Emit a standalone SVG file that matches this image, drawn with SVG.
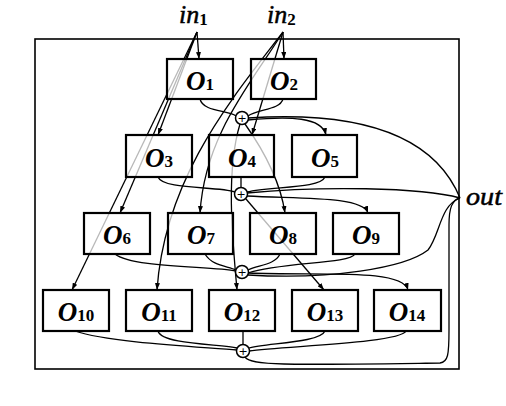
<svg xmlns="http://www.w3.org/2000/svg" width="506" height="406" viewBox="0 0 506 406">
<style>
.frame{fill:none;stroke:#000;stroke-width:1.6}
.box{fill:#fff;fill-opacity:0.72;stroke:#000;stroke-width:2.2}
.sum{fill:#fff;stroke:#000;stroke-width:1.5}
.e{fill:none;stroke:#000;stroke-width:1.3}
.a{marker-end:url(#ah)}
.op{font-family:"Liberation Serif",serif;font-style:italic;font-weight:bold;font-size:27px;fill:#000}
.sub{font-family:"Liberation Serif",serif;font-style:normal;font-weight:bold;font-size:17px}
.lbl{font-family:"Liberation Serif",serif;font-style:italic;font-size:26px;fill:#000;stroke:#000;stroke-width:0.5}
.plus{font-family:"DejaVu Sans",sans-serif;font-size:11px;fill:#000;text-anchor:middle}
</style>
<defs>
<marker id="ah" markerWidth="7" markerHeight="5" refX="7" refY="2.5" orient="auto" markerUnits="userSpaceOnUse">
<path d="M0,0 L7,2.5 L0,5 z" fill="#000"/>
</marker>
</defs>
<rect class="frame" x="35" y="39" width="424" height="330"/>
<text class="lbl" x="179" y="23">in<tspan class="sub" dy="2" stroke-width="0">1</tspan></text>
<text class="lbl" x="267" y="23">in<tspan class="sub" dy="2" stroke-width="0">2</tspan></text>
<text class="lbl" x="466" y="205" textLength="36" lengthAdjust="spacingAndGlyphs">out</text>
<g id="connectors">
<path class="e a" d="M197,32 L199,59"/>
<path class="e a" d="M197,32 L158,135"/>
<path class="e a" d="M197,32 L120,213"/>
<path class="e a" d="M197,32 L72,290"/>
<path class="e a" d="M283,32 L284,59"/>
<path class="e a" d="M283,32 L252,135"/>
<path class="e a" d="M283,32 C250,85 205,135 200,213"/>
<path class="e a" d="M283,32 C235,95 165,175 157,290"/>
<path class="e a" d="M248,120 C290,116 322,117 326,135"/>
<path class="e" d="M248,118 C340,112 430,125 460,198"/>
<path class="e a" d="M245,124 C262,148 280,180 285,213"/>
<path class="e a" d="M240,124 C226,170 232,235 237,290"/>
<path class="e a" d="M247,196 C300,199 362,196 368,213"/>
<path class="e" d="M247,193 C320,186 420,187 460,198"/>
<path class="e a" d="M246,199 L324,290"/>
<path class="e a" d="M248,273 C320,276 402,268 408,290"/>
<path class="e" d="M248,275 C330,280 405,268 428,250 C440,235 440,205 460,198"/>
<path class="e" d="M245,357 C250,366 290,365 440,363 C448,362 449,355 449,330 L449,225 C449,208 452,200 460,198"/>
<path class="e" d="M200,99 C203,112 228,110 236,116"/>
<path class="e" d="M283,99 C280,110 258,109 248,116"/>
<path class="e" d="M158,177 C163,190 218,186 235,192"/>
<path class="e" d="M241,177 L241,187.5"/>
<path class="e" d="M325,177 C320,189 270,186 247,192"/>
<path class="e" d="M115,254 C132,268 212,266 236,271"/>
<path class="e" d="M205,254 C212,266 228,266 236,270"/>
<path class="e" d="M280,254 C275,265 258,265 248,270"/>
<path class="e" d="M355,254 C350,264 282,262 248,273"/>
<path class="e" d="M75,331 C110,343 205,347 237,350"/>
<path class="e" d="M158,331 C162,345 222,344 237,348"/>
<path class="e" d="M243,331 L243,344.5"/>
<path class="e" d="M325,331 C320,343 265,343 249,348"/>
<path class="e" d="M406,331 C400,343 285,346 249,351"/>
</g>
<g id="O1"><rect class="box" x="167" y="59" width="66" height="40"/><text class="op" x="200" y="90" text-anchor="middle">O<tspan class="sub">1</tspan></text></g>
<g id="O2"><rect class="box" x="251" y="59" width="65" height="40"/><text class="op" x="284" y="90" text-anchor="middle">O<tspan class="sub">2</tspan></text></g>
<g id="O3"><rect class="box" x="126" y="135" width="66" height="42"/><text class="op" x="159" y="167" text-anchor="middle">O<tspan class="sub">3</tspan></text></g>
<g id="O4"><rect class="box" x="209" y="135" width="65" height="42"/><text class="op" x="242" y="167" text-anchor="middle">O<tspan class="sub">4</tspan></text></g>
<g id="O5"><rect class="box" x="292" y="135" width="65" height="42"/><text class="op" x="325" y="167" text-anchor="middle">O<tspan class="sub">5</tspan></text></g>
<g id="O6"><rect class="box" x="84" y="213" width="66" height="41"/><text class="op" x="117" y="244" text-anchor="middle">O<tspan class="sub">6</tspan></text></g>
<g id="O7"><rect class="box" x="168" y="213" width="65" height="41"/><text class="op" x="201" y="244" text-anchor="middle">O<tspan class="sub">7</tspan></text></g>
<g id="O8"><rect class="box" x="250" y="213" width="66" height="41"/><text class="op" x="283" y="244" text-anchor="middle">O<tspan class="sub">8</tspan></text></g>
<g id="O9"><rect class="box" x="333" y="213" width="66" height="41"/><text class="op" x="366" y="244" text-anchor="middle">O<tspan class="sub">9</tspan></text></g>
<g id="O10"><rect class="box" x="43" y="290" width="66" height="41"/><text class="op" x="76" y="321" text-anchor="middle">O<tspan class="sub">10</tspan></text></g>
<g id="O11"><rect class="box" x="126" y="290" width="66" height="41"/><text class="op" x="159" y="321" text-anchor="middle">O<tspan class="sub">11</tspan></text></g>
<g id="O12"><rect class="box" x="209" y="290" width="66" height="41"/><text class="op" x="242" y="321" text-anchor="middle">O<tspan class="sub">12</tspan></text></g>
<g id="O13"><rect class="box" x="292" y="290" width="66" height="41"/><text class="op" x="325" y="321" text-anchor="middle">O<tspan class="sub">13</tspan></text></g>
<g id="O14"><rect class="box" x="374" y="290" width="67" height="41"/><text class="op" x="407" y="321" text-anchor="middle">O<tspan class="sub">14</tspan></text></g>
<g id="sum1"><circle class="sum" cx="242" cy="118" r="6.5"/><text class="plus" x="242" y="122">+</text></g>
<g id="sum2"><circle class="sum" cx="241" cy="194" r="6.5"/><text class="plus" x="241" y="198">+</text></g>
<g id="sum3"><circle class="sum" cx="242" cy="272" r="6.5"/><text class="plus" x="242" y="276">+</text></g>
<g id="sum4"><circle class="sum" cx="243" cy="351" r="6.5"/><text class="plus" x="243" y="355">+</text></g>
</svg>
